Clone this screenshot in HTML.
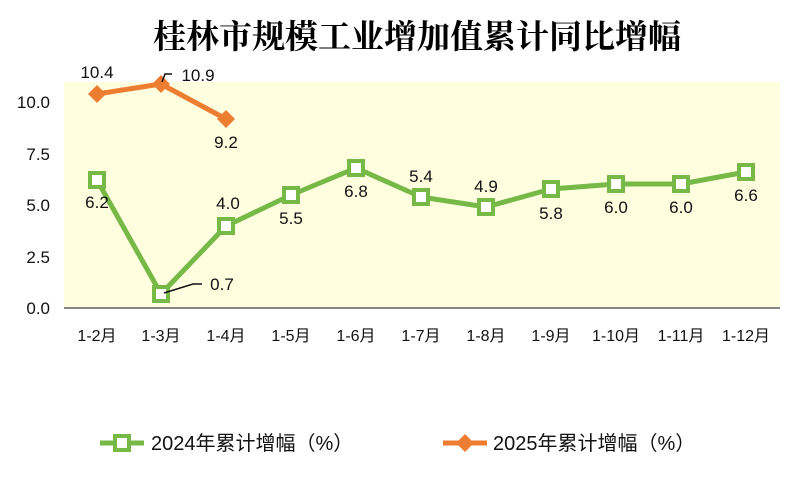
<!DOCTYPE html>
<html><head><meta charset="utf-8"><style>
body{margin:0;background:#fff;}
text{font-family:"Liberation Sans","Noto Sans CJK SC",sans-serif;}
</style></head><body>
<svg width="800" height="489" viewBox="0 0 800 489" xmlns="http://www.w3.org/2000/svg">
<text x="417" y="48" text-anchor="middle" font-size="33" font-weight="bold" style="font-family:'Noto Serif CJK SC','Noto Sans CJK SC',serif">桂林市规模工业增加值累计同比增幅</text>
<rect x="64" y="82" width="716" height="226" fill="#ffffe0"/>
<line x1="64" y1="308" x2="780" y2="308" stroke="#888" stroke-width="2"/>
<g font-size="17" fill="#111" text-anchor="end">
<text x="50" y="314">0.0</text><text x="50" y="263">2.5</text><text x="50" y="211">5.0</text><text x="50" y="160">7.5</text><text x="50" y="108">10.0</text>
</g>
<g font-size="16" fill="#111" text-anchor="middle">
<text x="97" y="341">1-2月</text><text x="161" y="341">1-3月</text><text x="226" y="341">1-4月</text><text x="291" y="341">1-5月</text><text x="356" y="341">1-6月</text><text x="421" y="341">1-7月</text><text x="486" y="341">1-8月</text><text x="551" y="341">1-9月</text><text x="616" y="341">1-10月</text><text x="681" y="341">1-11月</text><text x="746" y="341">1-12月</text>
</g>
<polyline fill="none" stroke="#76b947" stroke-width="5" stroke-linejoin="round" points="97,180 161,294 226,226 291,195 356,168 421,197 486,207 551,189 616,184 681,184 746,172"/>
<g fill="#fff" stroke="#76b947" stroke-width="4">
<rect x="90" y="173" width="14" height="14"/><rect x="154" y="287" width="14" height="14"/><rect x="219" y="219" width="14" height="14"/><rect x="284" y="188" width="14" height="14"/><rect x="349" y="161" width="14" height="14"/><rect x="414" y="190" width="14" height="14"/><rect x="479" y="200" width="14" height="14"/><rect x="544" y="182" width="14" height="14"/><rect x="609" y="177" width="14" height="14"/><rect x="674" y="177" width="14" height="14"/><rect x="739" y="165" width="14" height="14"/>
</g>
<polyline fill="none" stroke="#ed7d31" stroke-width="5" stroke-linejoin="round" points="97,94 161,84 226,119"/>
<g fill="#ed7d31">
<polygon points="97,85 106,94 97,103 88,94"/><polygon points="161,75 170,84 161,93 152,84"/><polygon points="226,110 235,119 226,128 217,119"/>
</g>
<path d="M164,293 L193,284 L202,284" stroke="#111" stroke-width="1.5" fill="none"/>
<path d="M162,82 L165,74 L172,74" stroke="#111" stroke-width="1.5" fill="none"/>
<g font-size="17" fill="#111" text-anchor="middle">
<text x="97" y="208">6.2</text><text x="222" y="290">0.7</text><text x="228" y="209">4.0</text><text x="291" y="224">5.5</text><text x="356" y="197">6.8</text><text x="421" y="182">5.4</text><text x="486" y="192">4.9</text><text x="551" y="219">5.8</text><text x="616" y="213">6.0</text><text x="681" y="213">6.0</text><text x="746" y="201">6.6</text>
<text x="97" y="78">10.4</text><text x="198" y="81">10.9</text><text x="226" y="148">9.2</text>
</g>
<line x1="100" y1="443" x2="144" y2="443" stroke="#76b947" stroke-width="5"/>
<rect x="115" y="436" width="14" height="14" fill="#fff" stroke="#76b947" stroke-width="4"/>
<text x="151" y="450" font-size="20" fill="#111">2024年累计增幅（%）</text>
<line x1="443" y1="443" x2="487" y2="443" stroke="#ed7d31" stroke-width="5"/>
<polygon points="465,434 474,443 465,452 456,443" fill="#ed7d31"/>
<text x="493" y="450" font-size="20" fill="#111">2025年累计增幅（%）</text>
</svg>
</body></html>
